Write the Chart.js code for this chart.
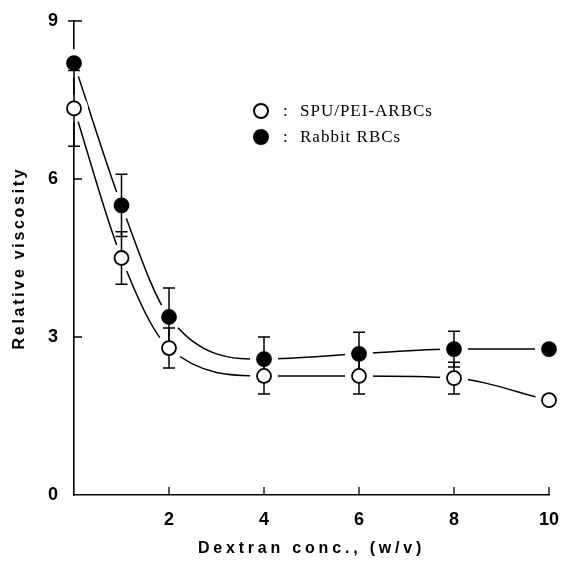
<!DOCTYPE html>
<html>
<head>
<meta charset="utf-8">
<script src="https://cdn.jsdelivr.net/npm/chart.js@4.4.0/dist/chart.umd.min.js"></script>
<style>
html, body { margin: 0; padding: 0; background: #fff; }
</style>
</head>
<body>
<canvas id="myChart" width="564" height="565"></canvas>
<script>
var dextran = [0, 1, 2, 4, 6, 8, 10];
var arbcVisc = [7.34, 4.5, 2.79, 2.26, 2.26, 2.22, 1.80];
var arbcErr = [0.72, 0.5, 0.38, 0.34, 0.34, 0.30, 0];
var rabbitVisc = [8.2, 5.5, 3.38, 2.58, 2.68, 2.77, 2.77];
var rabbitErr = [0, 0.59, 0.55, 0.42, 0.41, 0.34, 0];
var xTicks = [2, 4, 6, 8, 10];
var yTicks = [0, 3, 6, 9];
var seriesNames = ['SPU/PEI-ARBCs', 'Rabbit RBCs'];

function pts(ys) {
    return dextran.map(function (x, i) { return { x: x, y: ys[i] }; });
}

// white gap round each marker, the curves stop short of the symbols
function drawHalos(ctx, xs, ys, vals) {
    ctx.save();
    ctx.fillStyle = '#fff';
    for (var i = 0; i < vals.length; i++) {
        ctx.beginPath();
        ctx.arc(xs.getPixelForValue(dextran[i]), ys.getPixelForValue(vals[i]), 14, 0, Math.PI * 2);
        ctx.fill();
    }
    ctx.restore();
}

// error bars, drawn under the markers
function drawErrors(ctx, xs, ys, vals, errs) {
    ctx.save();
    ctx.strokeStyle = '#000';
    ctx.lineWidth = 1.5;
    for (var i = 0; i < vals.length; i++) {
        if (!errs[i]) continue;
        var px = xs.getPixelForValue(dextran[i]);
        var top = ys.getPixelForValue(vals[i] + errs[i]);
        var bot = ys.getPixelForValue(vals[i] - errs[i]);
        ctx.beginPath();
        ctx.moveTo(px, top); ctx.lineTo(px, bot);
        ctx.moveTo(px - 6, top); ctx.lineTo(px + 6, top);
        ctx.moveTo(px - 6, bot); ctx.lineTo(px + 6, bot);
        ctx.stroke();
    }
    ctx.restore();
}

// spaced out axis titles, tick labels stay tight
function spaceTitle(scale, spacing) {
    if (scale._spaced) return;
    var orig = scale.drawTitle;
    scale.drawTitle = function () {
        var c = this.ctx;
        var old = c.letterSpacing;
        c.letterSpacing = spacing;
        orig.apply(this, arguments);
        c.letterSpacing = old;
    };
    scale._spaced = true;
}

var paperPlugin = {
    id: 'paper',
    beforeDraw: function (chart) {
        spaceTitle(chart.scales.x, '3.8px');
        spaceTitle(chart.scales.y, '2.7px');
    },
    beforeDatasetDraw: function (chart, args) {
        if (args.index !== 3) return;
        var xs = chart.scales.x, ys = chart.scales.y;
        drawHalos(chart.ctx, xs, ys, rabbitVisc);
        drawHalos(chart.ctx, xs, ys, arbcVisc);
        drawErrors(chart.ctx, xs, ys, rabbitVisc, rabbitErr);
        drawErrors(chart.ctx, xs, ys, arbcVisc, arbcErr);
    },
    afterDraw: function (chart) {
        var ctx = chart.ctx;
        var xs = chart.scales.x, ys = chart.scales.y;
        var a = chart.chartArea;
        ctx.save();
        ctx.strokeStyle = '#000';
        ctx.lineWidth = 1.3;
        ctx.beginPath();
        yTicks.forEach(function (v) {
            if (v === 0) return;
            var py = ys.getPixelForValue(v);
            ctx.moveTo(v === 9 ? a.left - 6 : a.left, py);
            ctx.lineTo(a.left + 8, py);
        });
        xTicks.forEach(function (v) {
            var px = xs.getPixelForValue(v);
            ctx.moveTo(px, a.bottom);
            ctx.lineTo(px, a.bottom - 8);
        });
        ctx.stroke();

        // legend
        ctx.letterSpacing = '1px';
        ctx.font = '17px "Liberation Serif", "DejaVu Serif", serif';
        ctx.textBaseline = 'middle';
        ctx.fillStyle = '#000';
        var rows = [111, 137];
        for (var k = 0; k < 2; k++) {
            ctx.beginPath();
            ctx.arc(261, rows[k], 7, 0, Math.PI * 2);
            ctx.fillStyle = k === 0 ? '#fff' : '#000';
            ctx.fill();
            ctx.lineWidth = 2;
            ctx.stroke();
            ctx.fillStyle = '#000';
            ctx.fillText(':', 283, rows[k] + 1);
            ctx.fillText(seriesNames[k], 300, rows[k] + 1);
        }
        ctx.restore();
    }
};

var tickFont = { family: '"Liberation Sans", Arial, sans-serif', size: 18, weight: 'bold' };
var titleFont = { family: '"Liberation Sans", Arial, sans-serif', size: 16, weight: 'bold' };

var ctx = document.getElementById('myChart');
var myChart = new Chart(ctx, {
    type: 'line',
    data: {
        datasets: [{
            label: seriesNames[0] + ' curve',
            data: pts(arbcVisc),
            borderColor: '#000',
            borderWidth: 1.5,
            cubicInterpolationMode: 'monotone',
            pointRadius: 0,
            fill: false,
            clip: false,
            order: 3
        }, {
            label: seriesNames[1] + ' curve',
            data: pts(rabbitVisc),
            borderColor: '#000',
            borderWidth: 1.5,
            cubicInterpolationMode: 'monotone',
            pointRadius: 0,
            fill: false,
            clip: false,
            order: 2
        }, {
            label: seriesNames[0],
            data: pts(arbcVisc),
            showLine: false,
            pointRadius: 7,
            pointBorderWidth: 1.8,
            pointBackgroundColor: '#fff',
            pointBorderColor: '#000',
            clip: false,
            order: 0
        }, {
            label: seriesNames[1],
            data: pts(rabbitVisc),
            showLine: false,
            pointRadius: 7,
            pointBorderWidth: 1.8,
            pointBackgroundColor: '#000',
            pointBorderColor: '#000',
            clip: false,
            order: 1
        }]
    },
    options: {
        responsive: false,
        animation: false,
        layout: { padding: { top: 21, right: 15, left: 0, bottom: 0 } },
        plugins: {
            legend: { display: false },
            tooltip: { enabled: false }
        },
        scales: {
            x: {
                type: 'linear',
                min: 0,
                max: 10,
                afterFit: function (s) {
                    s.height = 70;
                    s.paddingLeft = 0; s.paddingRight = 0;
                },
                afterBuildTicks: function (s) {
                    s.ticks = xTicks.map(function (v) { return { value: v }; });
                },
                grid: { display: false, drawTicks: false },
                border: { display: true, color: '#000', width: 1.6 },
                ticks: { color: '#000', font: tickFont, padding: 14, maxRotation: 0 },
                title: {
                    display: true,
                    text: 'Dextran conc., (w/v)',
                    color: '#000',
                    font: titleFont,
                    padding: { top: 0, bottom: 7 }
                }
            },
            y: {
                min: 0,
                max: 9,
                z: 1,
                afterFit: function (s) {
                    s.width = 74;
                    s.paddingTop = 0; s.paddingBottom = 0;
                },
                afterBuildTicks: function (s) {
                    s.ticks = yTicks.map(function (v) { return { value: v }; });
                },
                grid: { display: false, drawTicks: false },
                border: { display: true, color: '#000', width: 1.6 },
                ticks: { color: '#000', font: tickFont, padding: 16 },
                title: {
                    display: true,
                    text: 'Relative viscosity',
                    color: '#000',
                    font: titleFont,
                    padding: { top: 10, bottom: 0 }
                }
            }
        }
    },
    plugins: [paperPlugin]
});
</script>
</body>
</html>
